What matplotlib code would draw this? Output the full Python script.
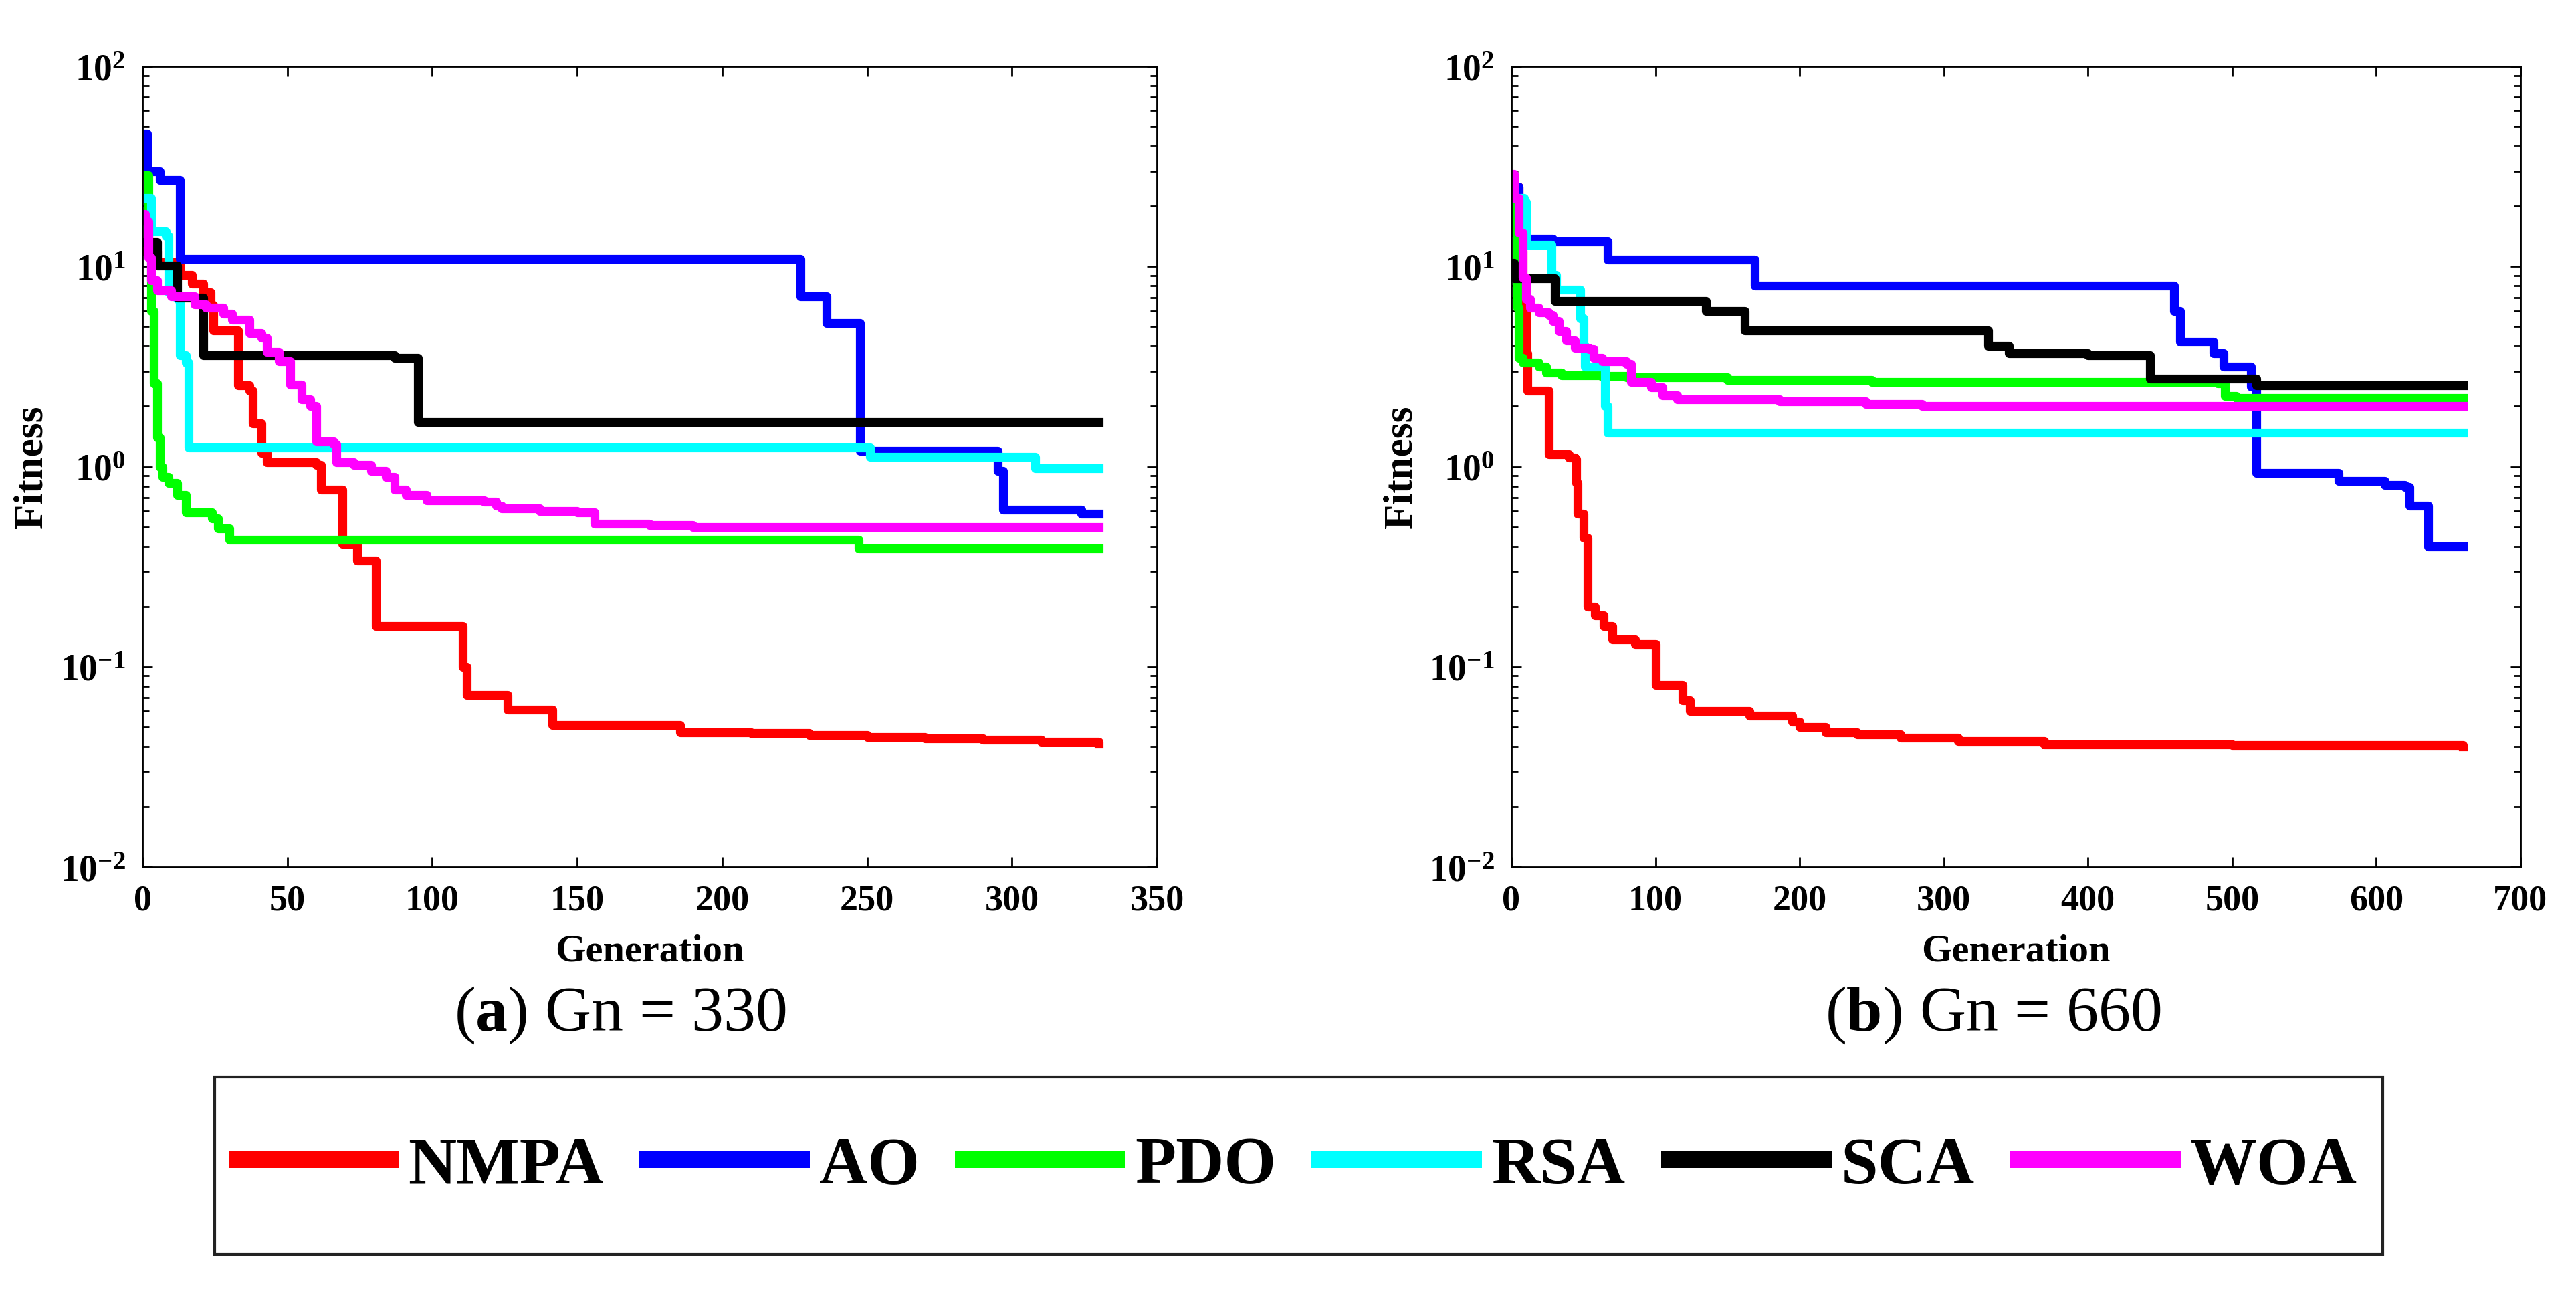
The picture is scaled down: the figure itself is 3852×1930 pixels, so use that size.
import numpy as np
import matplotlib
matplotlib.use('Agg')
from matplotlib import pyplot as plt
from matplotlib.patches import Rectangle
from matplotlib.ticker import FixedLocator, FuncFormatter, NullLocator, NullFormatter, LogLocator

plt.rcParams['font.family'] = ['Liberation Serif', 'DejaVu Serif']
plt.rcParams['mathtext.fontset'] = 'custom'
plt.rcParams['mathtext.rm'] = 'Liberation Serif'
plt.rcParams['mathtext.it'] = 'Liberation Serif:italic'
plt.rcParams['mathtext.bf'] = 'Liberation Serif:bold'

names = ['NMPA', 'AO', 'PDO', 'RSA', 'SCA', 'WOA']
colors = ['#ff0000', '#0000ff', '#00ff00', '#00ffff', '#000000', '#ff00ff']

# ---- (a) Gn = 330 : generation where best fitness changes, and new value
nmpa_gen_a = [0, 5, 13, 17, 21, 23.5, 24.5, 33, 37, 38, 41, 43, 60, 61.5, 69, 74, 80.5, 110.5, 112, 126, 141.5, 185.5, 210, 230, 250, 270, 290, 310, 330]
nmpa_fit_a = [12, 10.5, 9.1, 8.2, 7.4, 6.4, 4.8, 2.55, 2.4, 1.64, 1.17, 1.05, 1.02, 0.77, 0.41, 0.34, 0.16, 0.10, 0.072, 0.061, 0.051, 0.047, 0.0465, 0.0455, 0.0445, 0.0438, 0.043, 0.0422, 0.0415]
ao_gen_a = [0, 1.5, 6, 13, 227, 236, 247.5, 295, 297, 324, 330]
ao_fit_a = [46, 30, 27, 10.9, 7.1, 5.2, 1.2, 0.95, 0.61, 0.58, 0.58]
pdo_gen_a = [0, 2, 3, 4, 5, 6, 7, 9, 12, 15, 24, 26, 30, 247, 330]
pdo_fit_a = [28.6, 12, 6, 2.6, 1.4, 1.0, 0.89, 0.83, 0.72, 0.59, 0.55, 0.49, 0.43, 0.39, 0.39]
rsa_gen_a = [0, 3, 8, 9, 12, 13, 15, 16, 251, 308, 330]
rsa_fit_a = [22, 15, 14.2, 7.4, 6.9, 3.6, 3.3, 1.25, 1.12, 0.98, 0.98]
sca_gen_a = [0, 5, 12, 21, 87, 95, 330]
sca_fit_a = [13.2, 10.1, 7.0, 3.6, 3.5, 1.67, 1.67]
woa_gen_a = [0, 1, 2, 3, 5, 10, 18, 22, 28, 31, 37, 41, 43, 47, 51, 55, 58, 60, 66, 67, 73, 79, 84, 87, 91, 98, 118, 122, 124, 137, 150, 156, 175, 190, 330]
woa_fit_a = [18.3, 16.8, 11.1, 8.5, 7.6, 7.1, 6.45, 6.2, 5.8, 5.4, 4.66, 4.4, 3.73, 3.37, 2.56, 2.16, 2.0, 1.34, 1.29, 1.05, 1.02, 0.95, 0.89, 0.77, 0.72, 0.68, 0.67, 0.64, 0.62, 0.60, 0.59, 0.52, 0.51, 0.50, 0.50]

# ---- (b) Gn = 660
nmpa_gen_b = [0, 5, 8, 10, 11, 26, 40, 44, 45, 46, 50, 53, 58, 64, 70, 86, 100, 119, 124, 165, 195, 200, 218, 240, 270, 310, 370, 500, 660]
nmpa_fit_b = [25, 12, 6.5, 3.7, 2.4, 1.15, 1.11, 1.09, 0.83, 0.58, 0.44, 0.2, 0.18, 0.16, 0.137, 0.13, 0.081, 0.068, 0.06, 0.057, 0.053, 0.05, 0.047, 0.046, 0.044, 0.0425, 0.041, 0.0405, 0.040]
ao_gen_b = [0, 5, 10, 29, 67, 169, 460, 464, 487, 494, 513, 517, 574, 606, 620, 623, 636, 660]
ao_fit_b = [25, 16, 13.7, 13.3, 10.8, 8.0, 6.0, 4.2, 3.7, 3.15, 2.5, 0.93, 0.85, 0.81, 0.79, 0.64, 0.40, 0.40]
pdo_gen_b = [0, 2, 4, 5, 8, 19, 24, 35, 62, 80, 150, 250, 490, 495, 503, 660]
pdo_fit_b = [25, 14.7, 6.2, 3.5, 3.3, 3.15, 2.94, 2.86, 2.84, 2.79, 2.7, 2.65, 2.6, 2.25, 2.2, 2.2]
rsa_gen_b = [0, 9, 10, 28, 31, 48, 50, 51, 65, 67, 660]
rsa_fit_b = [22, 21, 12.8, 9.1, 7.65, 5.5, 4.0, 3.15, 2.0, 1.48, 1.48]
sca_gen_b = [0, 2, 30, 135, 162, 331, 345, 400, 443, 517, 660]
sca_fit_b = [10.4, 8.7, 6.7, 6.0, 4.8, 4.0, 3.7, 3.6, 2.75, 2.55, 2.55]
woa_gen_b = [0, 2, 5, 8, 10, 13, 19, 26, 29, 33, 38, 44, 54, 57, 63, 80, 83, 97, 105, 115, 186, 246, 285, 660]
woa_fit_b = [29, 22, 14.7, 8.8, 6.9, 6.2, 5.9, 5.7, 5.35, 4.74, 4.28, 3.93, 3.86, 3.49, 3.37, 3.26, 2.65, 2.48, 2.27, 2.16, 2.12, 2.05, 2.0, 2.0]

xticks_a = [0, 50, 100, 150, 200, 250, 300, 350]
xticks_b = [0, 100, 200, 300, 400, 500, 600, 700]
yticks = [1e-2, 1e-1, 1e0, 1e1, 1e2]
captions = [r'($\mathbf{a}$) Gn = 330', r'($\mathbf{b}$) Gn = 660']

series_a = [(nmpa_gen_a, nmpa_fit_a), (ao_gen_a, ao_fit_a), (pdo_gen_a, pdo_fit_a),
            (rsa_gen_a, rsa_fit_a), (sca_gen_a, sca_fit_a), (woa_gen_a, woa_fit_a)]
series_b = [(nmpa_gen_b, nmpa_fit_b), (ao_gen_b, ao_fit_b), (pdo_gen_b, pdo_fit_b),
            (rsa_gen_b, rsa_fit_b), (sca_gen_b, sca_fit_b), (woa_gen_b, woa_fit_b)]

fig = plt.figure(figsize=(38.52, 19.31), dpi=100)
ax_a = fig.add_axes([0.0553, 0.3283, 0.3938, 0.6199])
ax_b = fig.add_axes([0.5867, 0.3283, 0.3917, 0.6199])

for ax, series, xticks in [(ax_a, series_a, xticks_a), (ax_b, series_b, xticks_b)]:
    for (g, f), name, c in zip(series, names, colors):
        ax.plot(g, f, color=c, lw=9.5, drawstyle='steps-post', label=name)
    ax.set_yscale('log')
    ax.set_ylim(1e-2, 1e2)
    ax.set_xlim(xticks[0], xticks[-1])
    ax.xaxis.set_major_locator(FixedLocator(xticks))
    ax.xaxis.set_minor_locator(NullLocator())
    ax.yaxis.set_major_locator(FixedLocator(yticks))
    ax.yaxis.set_major_formatter(FuncFormatter(lambda v, p: r'$\mathbf{10^{%d}}$' % round(np.log10(v))))
    ax.yaxis.set_minor_locator(LogLocator(base=10, subs=np.arange(2, 10)))
    ax.yaxis.set_minor_formatter(NullFormatter())
    ax.tick_params(which='both', direction='in', top=True, right=True, width=2)
    ax.tick_params(which='major', length=11)
    ax.tick_params(which='minor', length=7)
    ax.tick_params(axis='x', pad=18, labelsize=39)
    ax.tick_params(axis='y', pad=18, labelsize=40)
    for lab in ax.get_xticklabels():
        lab.set_fontweight('bold')
    for s in ax.spines.values():
        s.set_linewidth(2)
    ax.set_xlabel('Generation', fontsize=42, fontweight='bold')
    ax.set_ylabel('Fitness', fontsize=44, fontweight='bold')
    ax.xaxis.label.set_va('center')
    ax.yaxis.label.set_va('center')
    ax.xaxis.set_label_coords(0.5, -0.1044)
    ax.yaxis.set_label_coords(-0.109, 0.5)

fig.text(0.2407, 0.214, captions[0], ha='center', va='center', fontsize=69)
fig.text(0.7737, 0.214, captions[1], ha='center', va='center', fontsize=69)

handles, labels = ax_a.get_legend_handles_labels()
leg = fig.legend(handles, labels, ncol=6, loc='center', bbox_to_anchor=(0.5034, 0.0968),
                 frameon=False, prop=dict(family='Liberation Serif', weight='bold', size=72),
                 handlelength=2.3, handletextpad=0.27, columnspacing=0.65)
for ln in leg.get_lines():
    ln.set_linewidth(18)
fig.add_artist(Rectangle((0.0833, 0.0285), 0.8416, 0.137, transform=fig.transFigure,
                         fill=False, lw=3, edgecolor='#222222'))

fig.savefig('out.png', dpi=100)
